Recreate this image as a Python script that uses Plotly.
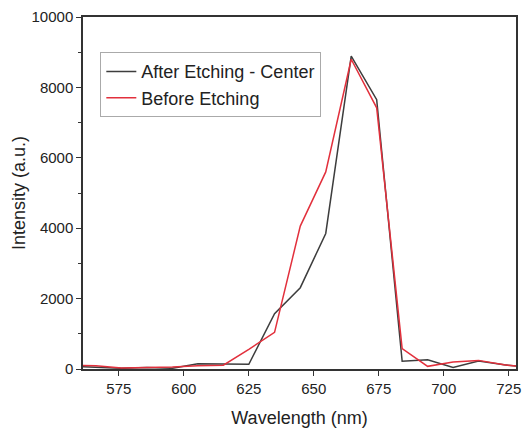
import plotly.graph_objects as go

wavelength = [556.4, 566.2, 576.0, 585.8, 595.6, 605.4, 615.2, 625.0, 634.9, 644.8, 654.6,
              664.4, 674.2, 684.0, 693.8, 703.6, 713.4, 723.2, 733.0]
after_center = [80, 60, 20, 40, 20, 150, 150, 133, 1570, 2310, 3850,
                8890, 7650, 220, 265, 40, 230, 120, 40]
before = [110, 95, 30, 40, 60, 95, 110, 560, 1040, 4060, 5600,
          8800, 7420, 580, 75, 200, 245, 120, 40]
x_ticks = [575, 600, 625, 650, 675, 700, 725]
y_ticks = [0, 2000, 4000, 6000, 8000, 10000]

fig = go.Figure()
fig.add_trace(go.Scatter(x=wavelength, y=after_center, mode="lines", name="After Etching - Center",
                         line=dict(color="#3d3d3d", width=1.5)))
fig.add_trace(go.Scatter(x=wavelength, y=before, mode="lines", name="Before Etching",
                         line=dict(color="#e2303c", width=1.5)))

font = "Arial, Liberation Sans, sans-serif"
fig.update_layout(
    width=522, height=422,
    margin=dict(l=75, r=14, t=9, b=61),
    paper_bgcolor="white", plot_bgcolor="white",
    font=dict(family=font, color="#222222", size=15),
    showlegend=True,
    legend=dict(x=0.04, y=0.9, xanchor="left", yanchor="top",
                bordercolor="#aaaaaa", borderwidth=1, bgcolor="white",
                font=dict(size=18, color="#222222"), tracegroupgap=0),
    xaxis=dict(range=[561.2, 727.8], tickmode="array", tickvals=x_ticks,
               ticktext=[str(v) for v in x_ticks], automargin=False,
               showgrid=False, zeroline=False, showline=True, linecolor="#333333", linewidth=1.5,
               mirror=True, ticks="outside", ticklen=5, tickcolor="#333333",
               title=dict(text="Wavelength (nm)", font=dict(size=18), standoff=16),
               tickfont=dict(size=15)),
    yaxis=dict(range=[0, 10000], tickmode="array", tickvals=y_ticks,
               ticktext=[str(v) for v in y_ticks], automargin=False,
               showgrid=False, zeroline=False, showline=True, linecolor="#333333", linewidth=1.5,
               mirror=True, ticks="outside", ticklen=5, tickcolor="#333333",
               minor=dict(tickvals=[1000, 3000, 5000, 7000, 9000], ticks="outside", ticklen=3,
                          tickcolor="#333333"),
               title=dict(text="Intensity (a.u.)", font=dict(size=18), standoff=1),
               tickfont=dict(size=15)),
)

fig.write_html("out.html")
